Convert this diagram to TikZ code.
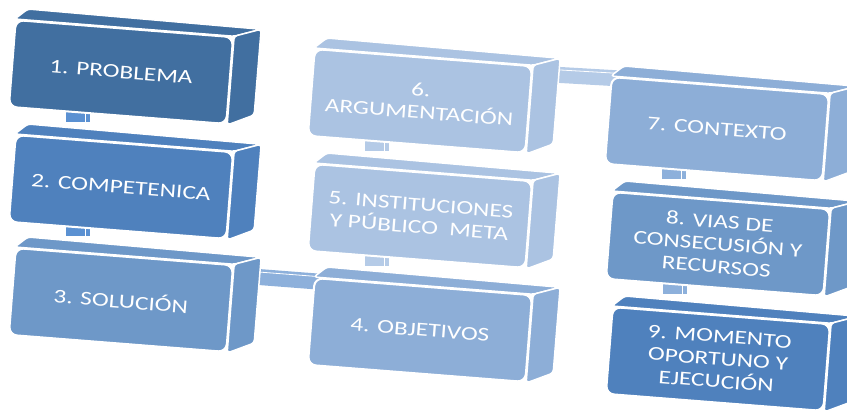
\documentclass[tikz,border=0pt]{standalone}
\usepackage{fontspec}
\newfontfamily\boxfont[FakeStretch=1.3]{Carlito}
\usetikzlibrary{backgrounds,calc}

\definecolor{blueA}{HTML}{416FA0}
\definecolor{blueB}{HTML}{4F81BD}
\definecolor{blueC}{HTML}{6E98C8}
\definecolor{blueD}{HTML}{8DAED7}
\definecolor{blueE}{HTML}{ABC3E2}
\definecolor{barA}{HTML}{5B91D2}
\definecolor{barD}{HTML}{8DB0DB}
\definecolor{barE}{HTML}{B5CBE7}

\tikzset{
  front/.style={rectangle, rounded corners=8pt, draw=white, line width=2pt,
    text=white, minimum width=218pt, minimum height=87pt, inner sep=0pt,
    rotate=-4.5, align=center, font=\boxfont\fontsize{19.5}{22.5}\selectfont},
  face/.style={draw=white, line width=1.5pt, line join=round, rounded corners=3pt},
  vbar/.style={line width=24pt,
    postaction={draw=white, line width=1pt, transform canvas={xshift=8pt}}},
  hbar/.style={line width=16pt,
    postaction={draw=white, line width=0.8pt, transform canvas={yshift=5pt}}}
}

\begin{document}
\begin{tikzpicture}[x=1pt,y=-1pt]
  \useasboundingbox (0,0) rectangle (847,412);

  \node[front, fill=blueA] (p1) at (121,72)  {1. PROBLEMA};
  \node[front, fill=blueB] (p2) at (121,187) {2. COMPETENICA};
  \node[front, fill=blueC] (p3) at (121,300) {3. SOLUCIÓN};
  \node[front, fill=blueE] (p6) at (420,101) {6.\\ARGUMENTACIÓN};
  \node[front, fill=blueE] (p5) at (420,216) {5. INSTITUCIONES\\Y PÚBLICO\ \ META};
  \node[front, fill=blueD] (p4) at (420,330) {4. OBJETIVOS};
  \node[front, fill=blueD] (p7) at (717,129) {7. CONTEXTO};
  \node[front, fill=blueC] (p8) at (718,244) {8. VIAS DE\\CONSECUSIÓN Y\\RECURSOS};
  \node[front, fill=blueB] (p9) at (718,359) {9. MOMENTO\\OPORTUNO Y\\EJECUCIÓN};

  \begin{scope}[on background layer]
    % links between the boxes
    \foreach \a/\b/\c in {p1/p2/barA, p2/p3/barA, p6/p5/barE,
                          p5/p4/barE, p7/p8/barD, p8/p9/barD} {
      \draw[vbar, \c] let \p1 = ($(\a.south west)+(70,-4)$),
                          \p2 = ($(\a.south west)!0.55!(\b.north west)$)
                      in (\p1) -- (\x1,\y2);
    }
    \draw[hbar, barD] ([shift={(15,12)}]p3.north east) -- ([shift={(10,5)}]p4.north west);
    \draw[hbar, barE] ([shift={(15,9)}]p6.north east) -- ([shift={(10,2.5)}]p7.north west);
    % top and side of each box
    \foreach \n/\c in {p1/blueA, p2/blueB, p3/blueC, p4/blueD, p5/blueE,
                       p6/blueE, p7/blueD, p8/blueC, p9/blueB} {
      \filldraw[face, fill=\c] (\n.north west) -- (\n.north east)
        -- ([shift={(27,-7)}]\n.north east) -- ([shift={(13,-10)}]\n.north west) -- cycle;
      \filldraw[face, fill=\c] (\n.north east) -- ([shift={(27,-7)}]\n.north east)
        -- ([shift={(27,-10)}]\n.south east) -- (\n.south east) -- cycle;
    }
  \end{scope}
\end{tikzpicture}
\end{document}
